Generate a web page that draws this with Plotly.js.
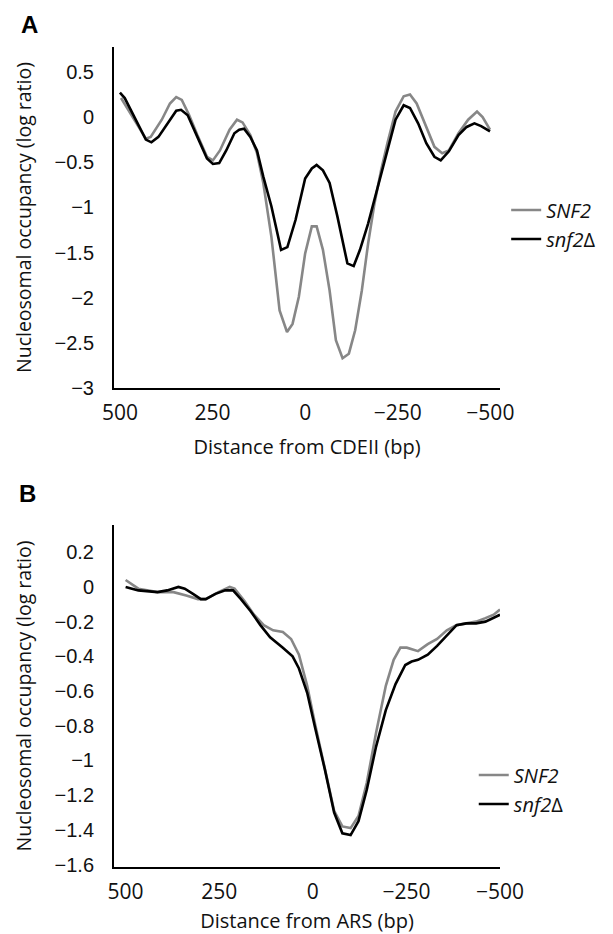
<!DOCTYPE html>
<html>
<head>
<meta charset="utf-8">
<script src="https://cdn.plot.ly/plotly-3.0.1.min.js"></script>
<style>html,body{margin:0;padding:0;background:#fff;}</style>
</head>
<body>
<div id="chart" style="width:613px;height:934px;"></div>
<script>
// Panel A: distance from CDEII (bp) vs nucleosomal occupancy (log ratio)
const xA_SNF2 = [497,430,417,387,365,348,333,313,291,265,249,230,204,184,169,148,130,113,91,69,49,34,17,0,-18,-31,-48,-66,-83,-101,-118,-135,-153,-170,-187,-205,-222,-244,-266,-283,-301,-327,-349,-370,-388,-414,-440,-464,-479,-499];
const yA_SNF2 = [0.21,-0.24,-0.22,-0.03,0.15,0.22,0.19,0.02,-0.20,-0.44,-0.48,-0.37,-0.14,-0.03,-0.06,-0.20,-0.40,-0.73,-1.33,-2.14,-2.38,-2.29,-1.99,-1.51,-1.21,-1.21,-1.47,-1.92,-2.47,-2.67,-2.62,-2.36,-1.92,-1.40,-0.96,-0.59,-0.29,0.06,0.23,0.25,0.15,-0.11,-0.33,-0.40,-0.37,-0.18,-0.03,0.06,0.00,-0.14];
const xA_snf2d = [500,487,430,415,396,365,348,335,317,291,265,249,232,213,191,178,165,148,130,113,91,65,48,26,0,-18,-31,-48,-66,-87,-114,-131,-148,-170,-196,-222,-244,-266,-283,-305,-327,-349,-366,-388,-414,-436,-457,-475,-499];
const yA_snf2d = [0.27,0.21,-0.25,-0.28,-0.22,-0.03,0.07,0.08,0.02,-0.22,-0.46,-0.52,-0.51,-0.37,-0.18,-0.14,-0.13,-0.22,-0.37,-0.66,-0.99,-1.47,-1.44,-1.14,-0.68,-0.57,-0.53,-0.59,-0.73,-1.10,-1.62,-1.65,-1.47,-1.18,-0.77,-0.37,-0.03,0.13,0.10,-0.07,-0.29,-0.44,-0.48,-0.38,-0.20,-0.11,-0.07,-0.10,-0.16];

// Panel B: distance from ARS (bp)
const xB_SNF2 = [500,466,415,372,338,307,286,252,222,209,183,157,131,106,80,58,37,15,-6,-32,-57,-79,-101,-122,-144,-169,-195,-216,-234,-251,-281,-307,-332,-358,-384,-410,-436,-461,-483,-500];
const yB_SNF2 = [0.04,-0.01,-0.03,-0.03,-0.05,-0.07,-0.07,-0.03,0.00,-0.01,-0.08,-0.16,-0.22,-0.25,-0.26,-0.30,-0.39,-0.57,-0.79,-1.04,-1.29,-1.38,-1.39,-1.32,-1.13,-0.84,-0.57,-0.42,-0.35,-0.35,-0.37,-0.33,-0.30,-0.25,-0.22,-0.21,-0.20,-0.18,-0.16,-0.13];
const xB_snf2d = [500,466,415,389,359,342,320,299,286,260,234,213,192,166,140,114,80,54,37,15,-6,-32,-57,-79,-101,-122,-144,-169,-195,-221,-247,-264,-281,-307,-332,-358,-384,-410,-436,-461,-483,-500];
const yB_snf2d = [0.00,-0.02,-0.03,-0.02,0.00,-0.01,-0.04,-0.07,-0.07,-0.04,-0.02,-0.02,-0.07,-0.14,-0.22,-0.29,-0.35,-0.40,-0.47,-0.61,-0.81,-1.05,-1.30,-1.42,-1.43,-1.35,-1.17,-0.92,-0.71,-0.56,-0.45,-0.43,-0.42,-0.39,-0.34,-0.28,-0.22,-0.21,-0.21,-0.20,-0.18,-0.16];

const xTicks = [500, 250, 0, -250, -500];
const seriesNames = ['<i>SNF2</i>', '<i>snf2</i>\u0394'];
const yTitle = 'Nucleosomal occupancy (log ratio)';
const xTitleA = 'Distance from CDEII (bp)';
const xTitleB = 'Distance from ARS (bp)';

const GRAY = '#878787', BLACK = '#000000';
const titleFont = {family: 'Open Sans, Noto Sans, sans-serif', size: 20, color: '#111'};
const yTitleFont = {family: 'Open Sans, Noto Sans, sans-serif', size: 19.5, color: '#111'};
const xTickFont = {family: 'Open Sans, Noto Sans, sans-serif', size: 21, color: '#111'};
const yTickFont = {family: 'Liberation Sans, Arial, sans-serif', size: 20, color: '#111'};

const traces = [
  {x: xA_SNF2, y: yA_SNF2, xaxis: 'x', yaxis: 'y', mode: 'lines', name: seriesNames[0],
   line: {color: GRAY, width: 2.6}, legend: 'legend'},
  {x: xA_snf2d, y: yA_snf2d, xaxis: 'x', yaxis: 'y', mode: 'lines', name: seriesNames[1],
   line: {color: BLACK, width: 2.6}, legend: 'legend'},
  {x: xB_SNF2, y: yB_SNF2, xaxis: 'x2', yaxis: 'y2', mode: 'lines', name: seriesNames[0],
   line: {color: GRAY, width: 2.6}, legend: 'legend2'},
  {x: xB_snf2d, y: yB_snf2d, xaxis: 'x2', yaxis: 'y2', mode: 'lines', name: seriesNames[1],
   line: {color: BLACK, width: 2.6}, legend: 'legend2'}
];

const xCommon = {
  showgrid: false, zeroline: false, showline: true, linecolor: '#000', linewidth: 2,
  ticks: '', tickvals: xTicks, tickfont: xTickFont, ticklabelstandoff: 5
};
const yCommon = {
  showgrid: false, zeroline: false, showline: true, linecolor: '#000', linewidth: 2,
  ticks: '', tickfont: yTickFont, ticklabelstandoff: 14, tick0: 0
};
const legendCommon = {
  font: {family: 'Open Sans, Noto Sans, sans-serif', size: 20, color: '#111'},
  bgcolor: 'rgba(0,0,0,0)', borderwidth: 0, tracegroupgap: 0, yanchor: 'middle', xanchor: 'left'
};

const layout = {
  width: 613, height: 934,
  margin: {l: 114, r: 100, t: 47, b: 67},
  paper_bgcolor: '#fff', plot_bgcolor: '#fff',
  showlegend: true,
  xaxis: Object.assign({}, xCommon, {domain: [0, 1], anchor: 'y', range: [516, -526],
    title: {text: xTitleA, font: titleFont, standoff: 15}}),
  yaxis: Object.assign({}, yCommon, {domain: [0.5841, 1], anchor: 'x', range: [-3, 0.775], dtick: 0.5,
    title: {text: yTitle, font: yTitleFont, standoff: 18}}),
  xaxis2: Object.assign({}, xCommon, {domain: [0, 1], anchor: 'y2', range: [531, -500],
    title: {text: xTitleB, font: titleFont, standoff: 18}}),
  yaxis2: Object.assign({}, yCommon, {domain: [0, 0.4171], anchor: 'x2', range: [-1.614, 0.357], dtick: 0.2,
    title: {text: yTitle, font: yTitleFont, standoff: 18}}),
  legend: Object.assign({}, legendCommon, {x: 1.016, y: 0.7835}),
  legend2: Object.assign({}, legendCommon, {x: 0.932, y: 0.0945}),
  annotations: [
    {text: '<b>A</b>', xref: 'paper', yref: 'paper', x: -0.218, y: 1.028, xanchor: 'center', yanchor: 'middle',
     showarrow: false, font: {family: 'Liberation Sans, Arial, sans-serif', size: 24, color: '#000'}},
    {text: '<b>B</b>', xref: 'paper', yref: 'paper', x: -0.225, y: 0.4549, xanchor: 'center', yanchor: 'middle',
     showarrow: false, font: {family: 'Liberation Sans, Arial, sans-serif', size: 24, color: '#000'}}
  ]
};

Plotly.newPlot('chart', traces, layout, {staticPlot: true, displayModeBar: false});
</script>
</body>
</html>
